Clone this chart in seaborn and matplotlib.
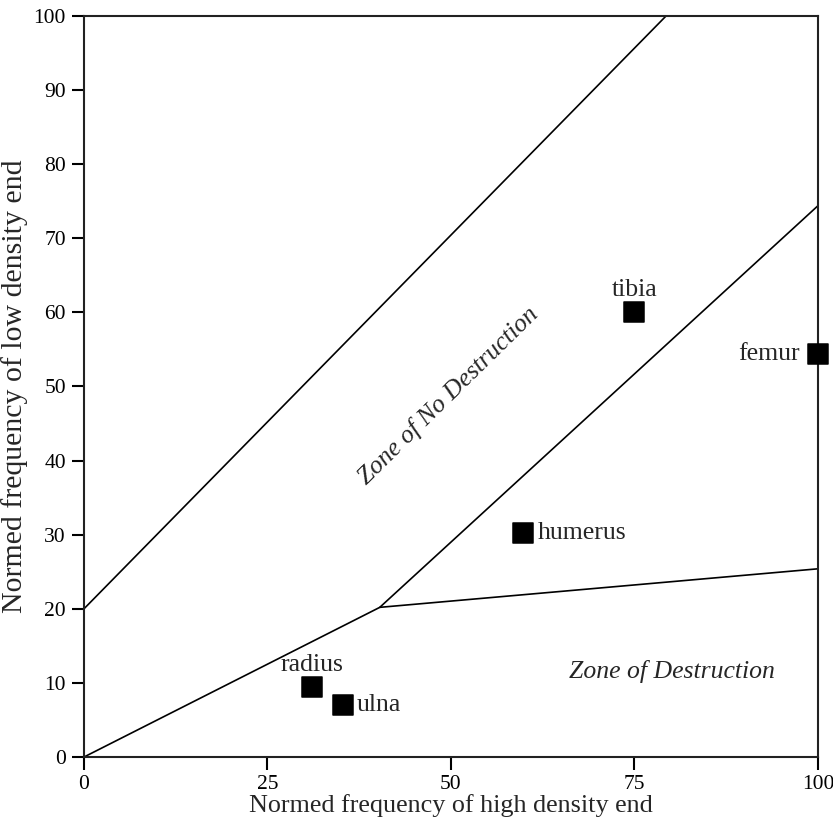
import seaborn as sns
import matplotlib.pyplot as plt
import pandas as pd

# Bone elements (normed frequencies)
bones = ['radius', 'ulna', 'humerus', 'tibia', 'femur']
high_end = [31.0, 35.3, 59.8, 75.0, 100.0]
low_end = [9.5, 7.0, 30.2, 60.0, 54.4]

# Zone boundary lines
upper_x = [0, 79.3]
upper_y = [20, 100]
lower_x = [0, 40.3, 100]
lower_y = [0, 20.2, 74.4]
base_x = [40.3, 100]
base_y = [20.2, 25.4]

sns.set_theme(style='ticks')
plt.rcParams['font.family'] = ['Liberation Serif', 'DejaVu Serif']
plt.rcParams['font.serif'] = ['Liberation Serif', 'DejaVu Serif']

fig = plt.figure(figsize=(8.33, 8.27), dpi=100)
ax = fig.add_axes([0.1008, 0.0846, 0.8812, 0.8961])

for xs, ys in [(upper_x, upper_y), (lower_x, lower_y), (base_x, base_y)]:
    sns.lineplot(x=xs, y=ys, ax=ax, color='black', linewidth=1.2,
                 sort=False, estimator=None)

df = pd.DataFrame({'bone': bones, 'high': high_end, 'low': low_end})
pts = sns.scatterplot(data=df, x='high', y='low', ax=ax, marker='s',
                      s=190, color='black', edgecolor='black', zorder=5)
pts.collections[0].set_clip_on(False)

# Labels for the points
offsets = {
    'radius': (0, 8, 'center', 'bottom'),
    'ulna': (10, 0, 'left', 'center'),
    'humerus': (11, 0, 'left', 'center'),
    'tibia': (0, 8, 'center', 'bottom'),
    'femur': (-13, 0, 'right', 'center'),
}
for b, hx, ly in zip(bones, high_end, low_end):
    dx, dy, ha, va = offsets[b]
    ax.annotate(b, (hx, ly), xytext=(dx, dy), textcoords='offset points',
                ha=ha, va=va, fontsize=18.5)

ax.text(49.7, 48.7, 'Zone of No Destruction', rotation=44.5, style='italic',
        ha='center', va='center', fontsize=18.5, rotation_mode='anchor')
ax.text(80.1, 11.5, 'Zone of Destruction', style='italic',
        ha='center', va='center', fontsize=18.5)

ax.set_xlim(0, 100)
ax.set_ylim(0, 100)
ax.set_xticks([0, 25, 50, 75, 100])
ax.set_yticks(range(0, 101, 10))
ax.tick_params(direction='out', length=9, width=1.5, labelsize=15.5,
               colors='black', pad=4)
for lab in ax.get_xticklabels() + ax.get_yticklabels():
    lab.set_fontfamily('Liberation Serif')
for sp in ax.spines.values():
    sp.set_linewidth(1.5)
    sp.set_color('#222222')
ax.set_xlabel('Normed frequency of high density end', fontsize=18.8, labelpad=0)
ax.set_ylabel('Normed frequency of low density end', fontsize=21.5, labelpad=4)

fig.savefig('out.png', dpi=100)
